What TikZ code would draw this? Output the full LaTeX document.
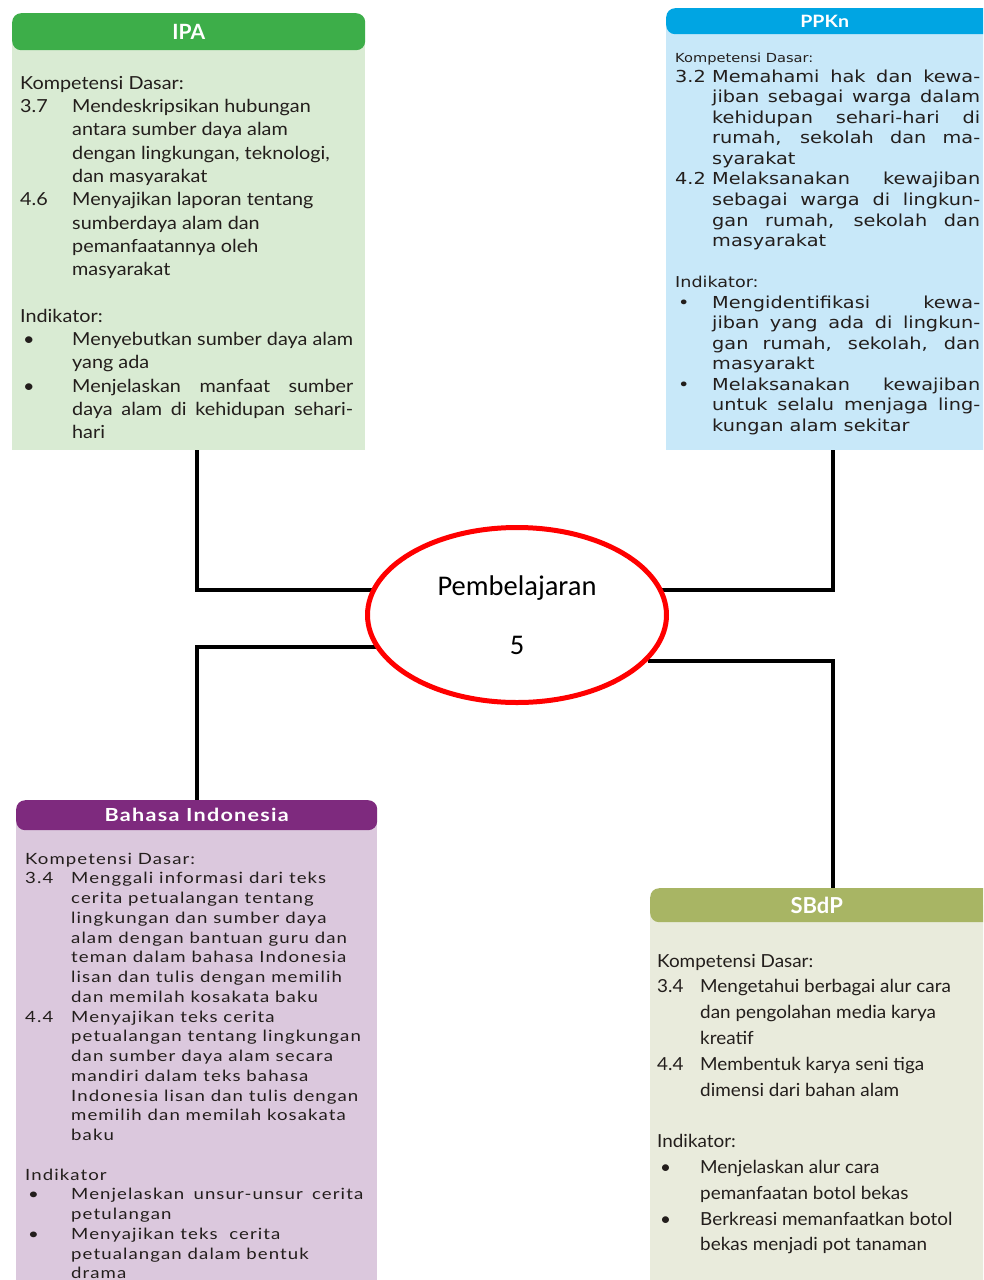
\documentclass[tikz,border=0pt]{standalone}
\usepackage{fontspec}
\setmainfont{Lato}
\newfontfamily\ipafont[FakeStretch=1.1]{Lato}
\newfontfamily\bifont[FakeStretch=1.2,LetterSpace=7]{Lato}
\newfontfamily\sbfont[FakeStretch=1.05]{Lato}
\newfontfamily\ppfont[FakeStretch=1.17]{DejaVu Sans}
\newfontfamily\ppheadfont[FakeStretch=1.15]{Lato}
\newfontfamily\centrefont{Carlito}
\usetikzlibrary{shapes.geometric}

\definecolor{ipaHead}{HTML}{3DAE49}
\definecolor{ipaBody}{HTML}{D9EBD3}
\definecolor{ppHead}{HTML}{00A5E3}
\definecolor{ppBody}{HTML}{C8E8F9}
\definecolor{biHead}{HTML}{7E2A7E}
\definecolor{biBody}{HTML}{DBC8DD}
\definecolor{sbHead}{HTML}{A8B564}
\definecolor{sbBody}{HTML}{E9EBDC}
\definecolor{ink}{HTML}{231E1C}
\definecolor{ringRed}{HTML}{FF0000}

% item layout helpers: number column, continuation lines, justified lines
\newlength\kdind
\newlength\kdjw
\newcommand\kditem[2]{\makebox[\kdind][l]{#1}#2}
\newcommand\kdcont[1]{\hspace*{\kdind}#1}
\newcommand\kdjust[1]{\makebox[\kdjw][s]{#1}}

\tikzset{
  panel/.style={rectangle, inner sep=0pt, anchor=north west, draw=none},
  banner/.style={rectangle, rounded corners=9pt, inner sep=0pt, anchor=north west, text=white},
  listing/.style={anchor=north west, inner sep=0pt, align=left, text=ink},
  conn/.style={line width=4.5pt, black},
}

\begin{document}
\begin{tikzpicture}[x=1pt,y=-1pt]
\useasboundingbox (0,0) rectangle (983,1280);
\fill[white] (0,0) rectangle (983,1280);
\clip (0,0) rectangle (983,1280);

% ---------- IPA ----------
\node[panel, fill=ipaBody, minimum width=353pt, minimum height=420pt] (ipa) at (12,30) {};
\node[banner, fill=ipaHead, minimum width=353pt, minimum height=37pt,
      font=\bfseries\fontsize{21}{25}\selectfont] (ipah) at (12,13) {IPA};
\node[listing, font={\ipafont\fontsize{18}{23.3}\selectfont\setlength{\kdind}{52pt}\setlength{\kdjw}{281pt}}]
  (ipat) at (20,72.7) {%
\strut Kompetensi Dasar:\\
\kditem{3.7}{Mendeskripsikan hubungan}\\
\kdcont{antara sumber daya alam}\\
\kdcont{dengan lingkungan, teknologi,}\\
\kdcont{dan masyarakat}\\
\kditem{4.6}{Menyajikan laporan tentang}\\
\kdcont{sumberdaya alam dan}\\
\kdcont{pemanfaatannya oleh}\\
\kdcont{masyarakat}\\[23.3pt]
Indikator:\\
\kditem{\hspace*{3pt}•}{Menyebutkan sumber daya alam}\\
\kdcont{yang ada}\\
\kditem{\hspace*{3pt}•}{\kdjust{Menjelaskan manfaat sumber}}\\
\kdcont{\kdjust{daya alam di kehidupan sehari-}}\\
\kdcont{hari}};

% ---------- PPKn ----------
\node[panel, fill=ppBody, minimum width=330pt, minimum height=430pt] (pp) at (666,20) {};
\node[banner, fill=ppHead, minimum width=335pt, minimum height=26pt,
      font=\ppheadfont\bfseries\fontsize{17}{20}\selectfont] (pph) at (666,8) {PPKn\hspace*{18pt}};
\node[anchor=base west, inner sep=0pt, text=ink, font=\ppfont\fontsize{12.5}{15}\selectfont]
  (ppk) at (675,62) {Kompetensi Dasar:};
\node[listing, font={\ppfont\fontsize{16.5}{20.55}\selectfont\setlength{\kdind}{37pt}\setlength{\kdjw}{268pt}}]
  (ppt) at (675,67.6) {%
\strut\kditem{3.2}{\kdjust{Memahami hak dan kewa-}}\\
\kdcont{\kdjust{jiban sebagai warga dalam}}\\
\kdcont{\kdjust{kehidupan sehari-hari di}}\\
\kdcont{\kdjust{rumah, sekolah dan ma-}}\\
\kdcont{syarakat}\\
\kditem{4.2}{\kdjust{Melaksanakan kewajiban}}\\
\kdcont{\kdjust{sebagai warga di lingkun-}}\\
\kdcont{\kdjust{gan rumah, sekolah dan}}\\
\kdcont{masyarakat}\\[20.55pt]
{\fontsize{15}{20.55}\selectfont Indikator:}\\
\kditem{\hspace*{3pt}•}{\kdjust{Mengidentifikasi kewa-}}\\
\kdcont{\kdjust{jiban yang ada di lingkun-}}\\
\kdcont{\kdjust{gan rumah, sekolah, dan}}\\
\kdcont{masyarakt}\\
\kditem{\hspace*{3pt}•}{\kdjust{Melaksanakan kewajiban}}\\
\kdcont{\kdjust{untuk selalu menjaga ling-}}\\
\kdcont{kungan alam sekitar}};

% ---------- Bahasa Indonesia ----------
\node[panel, fill=biBody, minimum width=361pt, minimum height=475pt] (bi) at (16,815) {};
\node[banner, fill=biHead, minimum width=361pt, minimum height=30pt,
      font=\bifont\bfseries\fontsize{18}{21}\selectfont] (bih) at (16,800) {Bahasa Indonesia};
\node[listing, font={\bifont\fontsize{15.5}{19.75}\selectfont\setlength{\kdind}{46pt}\setlength{\kdjw}{292pt}}]
  (bit) at (25,850) {%
\strut Kompetensi Dasar:\\
\kditem{3.4}{Menggali informasi dari teks}\\
\kdcont{cerita petualangan tentang}\\
\kdcont{lingkungan dan sumber daya}\\
\kdcont{alam dengan bantuan guru dan}\\
\kdcont{teman dalam bahasa Indonesia}\\
\kdcont{lisan dan tulis dengan memilih}\\
\kdcont{dan memilah kosakata baku}\\
\kditem{4.4}{Menyajikan teks cerita}\\
\kdcont{petualangan tentang lingkungan}\\
\kdcont{dan sumber daya alam secara}\\
\kdcont{mandiri dalam teks bahasa}\\
\kdcont{Indonesia lisan dan tulis dengan}\\
\kdcont{memilih dan memilah kosakata}\\
\kdcont{baku}\\[19.75pt]
Indikator\\
\kditem{\hspace*{3pt}•}{\kdjust{Menjelaskan unsur-unsur cerita}}\\
\kdcont{petulangan}\\
\kditem{\hspace*{3pt}•}{Menyajikan teks\ \ cerita}\\
\kdcont{petualangan dalam bentuk}\\
\kdcont{drama}};

% ---------- SBdP ----------
\node[panel, fill=sbBody, minimum width=345pt, minimum height=380pt] (sb) at (650,905) {};
\node[banner, fill=sbHead, minimum width=350pt, minimum height=34pt,
      font=\bfseries\fontsize{22}{26}\selectfont] (sbh) at (650,888) {SBdP\hspace*{17pt}};
\node[listing, font={\sbfont\fontsize{18}{25.8}\selectfont\setlength{\kdind}{43pt}}]
  (sbt) at (657,948.9) {%
\strut Kompetensi Dasar:\\
\kditem{3.4}{Mengetahui berbagai alur cara}\\
\kdcont{dan pengolahan media karya}\\
\kdcont{kreatif}\\
\kditem{4.4}{Membentuk karya seni tiga}\\
\kdcont{dimensi dari bahan alam}\\[25.8pt]
Indikator:\\
\kditem{\hspace*{3pt}•}{Menjelaskan alur cara}\\
\kdcont{pemanfaatan botol bekas}\\
\kditem{\hspace*{3pt}•}{Berkreasi memanfaatkan botol}\\
\kdcont{bekas menjadi pot tanaman}};

% ---------- connectors ----------
\coordinate (xL) at (197,0);
\coordinate (xR) at (833,0);
\coordinate (eIPA) at (375,590);
\coordinate (ePP) at (658,590);
\coordinate (eBI) at (380,647);
\coordinate (eSB) at (648,661);
\draw[conn] (ipa.south -| xL) |- (eIPA);
\draw[conn] (pp.south -| xR) |- (ePP);
\draw[conn] (eBI) -| (bih.north -| xL);
\draw[conn] (eSB) -| (sbh.north -| xR);

% ---------- centre ----------
\node[ellipse, draw=ringRed, line width=5pt, fill=white, minimum width=299pt, minimum height=175pt,
      inner sep=0pt, align=center, font=\centrefont\fontsize{28.5}{59}\selectfont] (lesson) at (517,615)
  {Pembelajaran\\5};
\end{tikzpicture}
\end{document}
